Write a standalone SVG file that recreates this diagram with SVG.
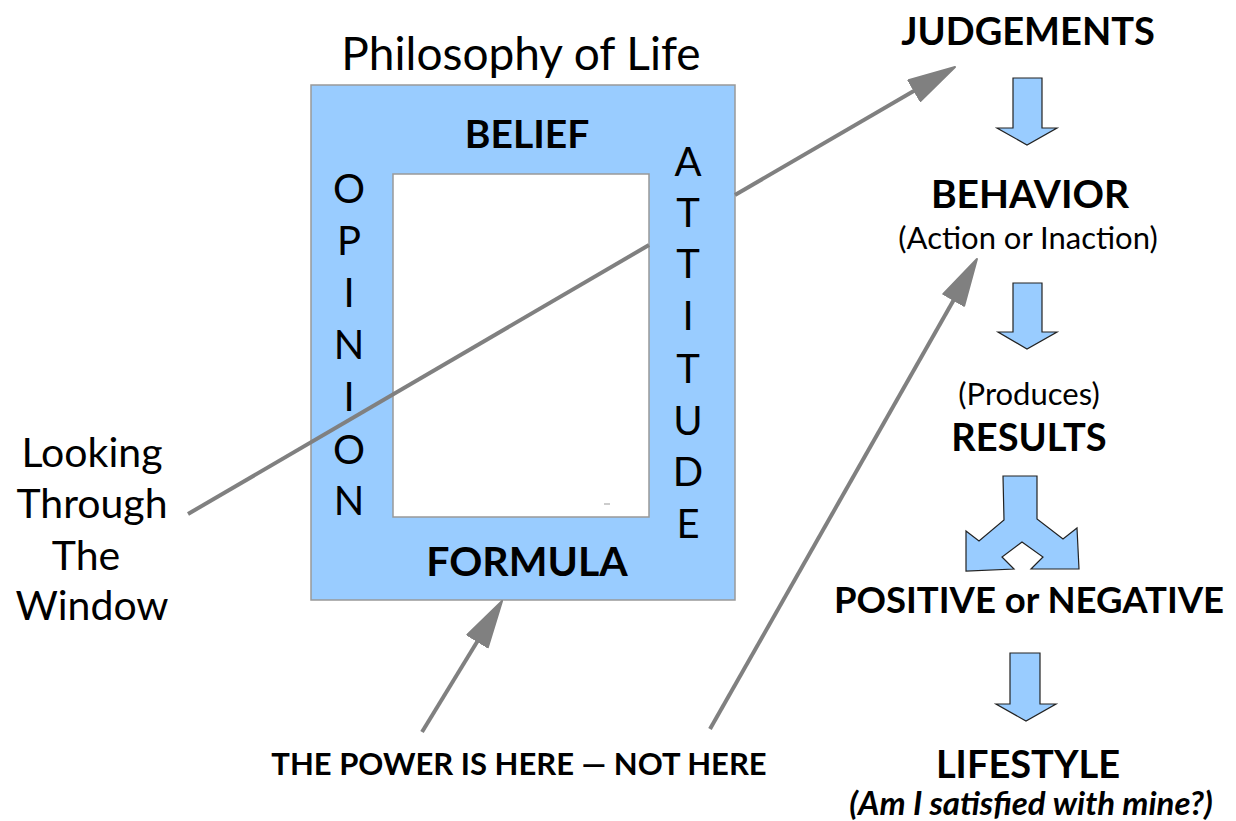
<svg xmlns="http://www.w3.org/2000/svg" width="1236" height="821" viewBox="0 0 1236 821">
<style>
text{font-family:Lato,"Open Sans","Liberation Sans",sans-serif;fill:#000;text-anchor:middle}
.b{font-weight:bold}
.frame{fill:#99ccff;stroke:#999;stroke-width:1.5}
.blue{fill:#99ccff;stroke:#222;stroke-width:1.2;stroke-linejoin:miter}
.conn{fill:none;stroke:#808080;stroke-width:4}
</style>
<defs>
<marker id="ah" markerUnits="userSpaceOnUse" markerWidth="52" markerHeight="30" refX="40" refY="13" orient="auto" viewBox="0 0 52 30">
<path d="M1,1 L48,13 L1,25 Z" fill="#808080" stroke="#808080" stroke-width="2" stroke-linejoin="round"/>
</marker>
</defs>
<rect width="1236" height="821" fill="#fff"/>
<g id="title"><text x="521" y="70" style="font-size:46px">Philosophy of Life</text></g>
<g id="frame">
<path class="frame" fill-rule="evenodd" d="M311,85 H735 V600 H311 Z M393,174 V517 H649 V174 Z"/>
<line x1="604" y1="504" x2="610" y2="504" stroke="#999" stroke-width="1"/>
</g>
<g id="belief"><text class="b" x="527" y="148" style="font-size:39px">BELIEF</text></g>
<g id="formula"><text class="b" x="527" y="576" style="font-size:41px">FORMULA</text></g>
<g id="opinion" style="font-size:40px">
<text x="349" y="203">O</text><text x="349" y="255">P</text><text x="349" y="307">I</text><text x="349" y="359">N</text><text x="349" y="411">I</text><text x="349" y="464">O</text><text x="349" y="515">N</text>
</g>
<g id="attitude" style="font-size:40px">
<text x="688" y="176">A</text><text x="688" y="227">T</text><text x="688" y="278">T</text><text x="688" y="330">I</text><text x="688" y="383">T</text><text x="688" y="435">U</text><text x="688" y="486">D</text><text x="688" y="538">E</text>
</g>
<g id="looking" style="font-size:41px">
<text x="92" y="467">Looking</text><text x="92" y="518">Through</text><text x="86" y="570">The</text><text x="92" y="620">Window</text>
</g>
<g id="power"><text class="b" x="519" y="775" style="font-size:31px">THE POWER IS HERE — NOT HERE</text></g>
<g id="judgements"><text class="b" x="1028" y="45" style="font-size:38px">JUDGEMENTS</text></g>
<g id="behavior"><text class="b" x="1030" y="208" style="font-size:39px">BEHAVIOR</text><text x="1028" y="249" style="font-size:31px">(Action or Inaction)</text></g>
<g id="results"><text x="1029" y="405" style="font-size:31px">(Produces)</text><text class="b" x="1029" y="451" style="font-size:38px">RESULTS</text></g>
<g id="posneg"><text class="b" x="1029" y="613" style="font-size:36.5px">POSITIVE or NEGATIVE</text></g>
<g id="lifestyle"><text class="b" x="1028" y="778" style="font-size:38px">LIFESTYLE</text><text class="b" x="1031" y="815" style="font-size:33px;font-style:italic">(Am I satisfied with mine?)</text></g>
<g id="flow-arrows">
<polygon class="blue" points="1013,78 1042,78 1042,128 1057,128 1027,145 997,128 1013,128"/>
<polygon class="blue" points="1013,283 1042,283 1042,332 1057,332 1027,349 998,332 1013,332"/>
<polygon class="blue" points="1003,476 1037,476 1037,519 1063,539 1077,528 1079,569 1031,569 1043,557 1022,542 1002,557 1014,569 966,571 966,531 979,541 1004,520"/>
<polygon class="blue" points="1010,653 1040,653 1040,704 1056,704 1026,721 996,704 1010,704"/>
</g>
<g id="connectors">
<path class="conn" d="M188,514 L649,245"/>
<path class="conn" d="M735,195 L948.1,71" marker-end="url(#ah)"/>
<path class="conn" d="M710,729 L973,266" marker-end="url(#ah)"/>
<path class="conn" d="M422,732 L497.9,607.8" marker-end="url(#ah)"/>
</g>
</svg>
